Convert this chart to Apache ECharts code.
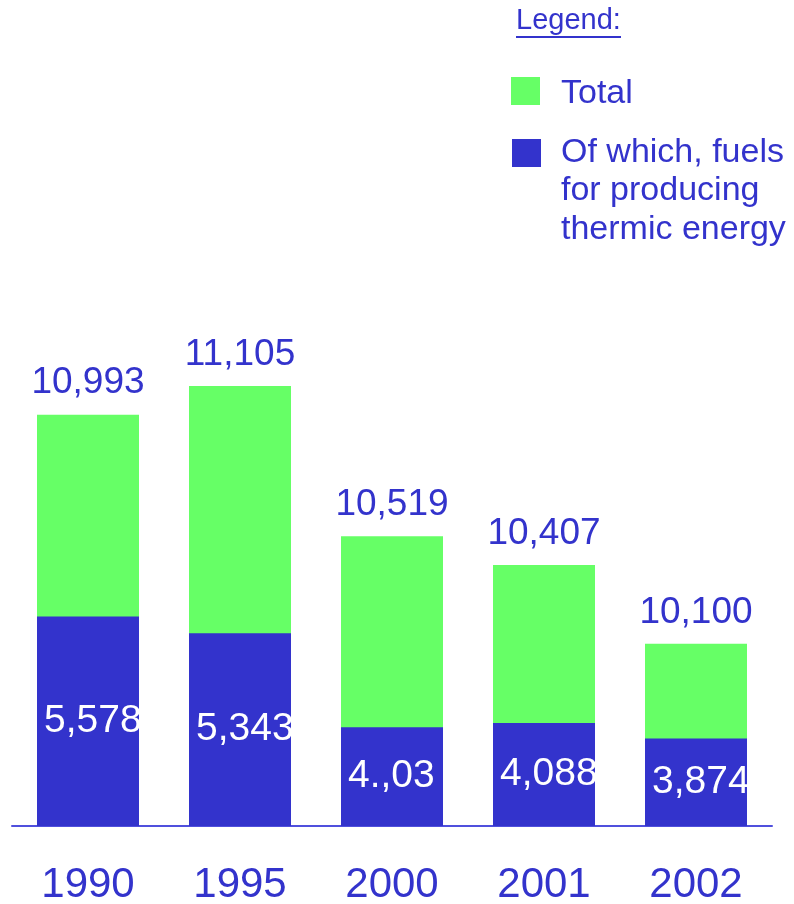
<!DOCTYPE html>
<html>
<head>
<meta charset="utf-8">
<script src="https://cdn.jsdelivr.net/npm/echarts@6/dist/echarts.min.js"></script>
<style>
  html, body { margin: 0; padding: 0; background: #ffffff; }
  #chart { width: 794px; height: 904px; }
</style>
</head>
<body>
<div id="chart"></div>
<script>
// Fuel consumption, total and the share used for producing thermic energy
const years = ['1990', '1995', '2000', '2001', '2002'];
const totalValues = [10993, 11105, 10519, 10407, 10100];
const fuelValues = [5578, 5343, 4030, 4088, 3874];
const fuelLabels = ['5,578', '5,343', '4.,03', '4,088', '3,874'];

const seriesNames = ['Total', 'Of which, fuels\nfor producing\nthermic energy'];
const legendTitle = 'Legend:';

const GREEN = '#66ff66';
const BLUE = '#3333cc';
const FONT = '"Liberation Sans", Arial, sans-serif';

const chart = echarts.init(document.getElementById('chart'), null, { renderer: 'canvas' });

const fmt = v => v.toLocaleString('en-US');

chart.setOption({
  backgroundColor: '#ffffff',
  animation: false,
  grid: { left: 12, right: 22, top: 300, bottom: 78, containLabel: false, outerBoundsMode: 'none' },
  xAxis: {
    type: 'category',
    data: years,
    axisTick: { show: false },
    axisLine: { lineStyle: { color: '#5050dd', width: 2 } },
    axisLabel: { color: BLUE, fontSize: 42, fontFamily: FONT, margin: 38 }
  },
  yAxis: [
    { type: 'value', min: 9390, max: 11440, show: false, splitLine: { show: false } },
    { type: 'value', min: 2650, max: 10000, show: false, splitLine: { show: false } }
  ],
  series: [
    {
      name: seriesNames[0],
      type: 'bar',
      yAxisIndex: 0,
      data: totalValues,
      barWidth: 102,
      barGap: '-100%',
      itemStyle: { color: GREEN },
      label: {
        show: true,
        position: 'top',
        distance: 13,
        color: BLUE,
        fontSize: 37,
        fontFamily: FONT,
        formatter: p => fmt(p.value)
      }
    },
    {
      name: seriesNames[1],
      type: 'bar',
      yAxisIndex: 1,
      data: fuelValues,
      barWidth: 102,
      barGap: '-100%',
      itemStyle: { color: BLUE },
      label: {
        show: true,
        position: 'insideLeft',
        distance: 7,
        color: '#ffffff',
        fontSize: 39,
        fontFamily: FONT,
        formatter: p => fuelLabels[p.dataIndex]
      }
    }
  ],
  graphic: [
    {
      type: 'text', left: 516, top: 6,
      style: { text: legendTitle, fill: BLUE, fontSize: 29, fontFamily: FONT }
    },
    {
      type: 'rect', shape: { x: 516, y: 36, width: 105, height: 2 },
      style: { fill: BLUE }
    },
    {
      type: 'rect', shape: { x: 511, y: 77, width: 29, height: 28 },
      style: { fill: GREEN }
    },
    {
      type: 'text', left: 561, top: 74,
      style: { text: seriesNames[0], fill: BLUE, fontSize: 34, fontFamily: FONT, lineHeight: 38.5 }
    },
    {
      type: 'rect', shape: { x: 512, y: 139, width: 29, height: 28 },
      style: { fill: BLUE }
    },
    {
      type: 'text', left: 561, top: 133,
      style: { text: seriesNames[1], fill: BLUE, fontSize: 34, fontFamily: FONT, lineHeight: 38.5 }
    }
  ]
});
</script>
</body>
</html>
